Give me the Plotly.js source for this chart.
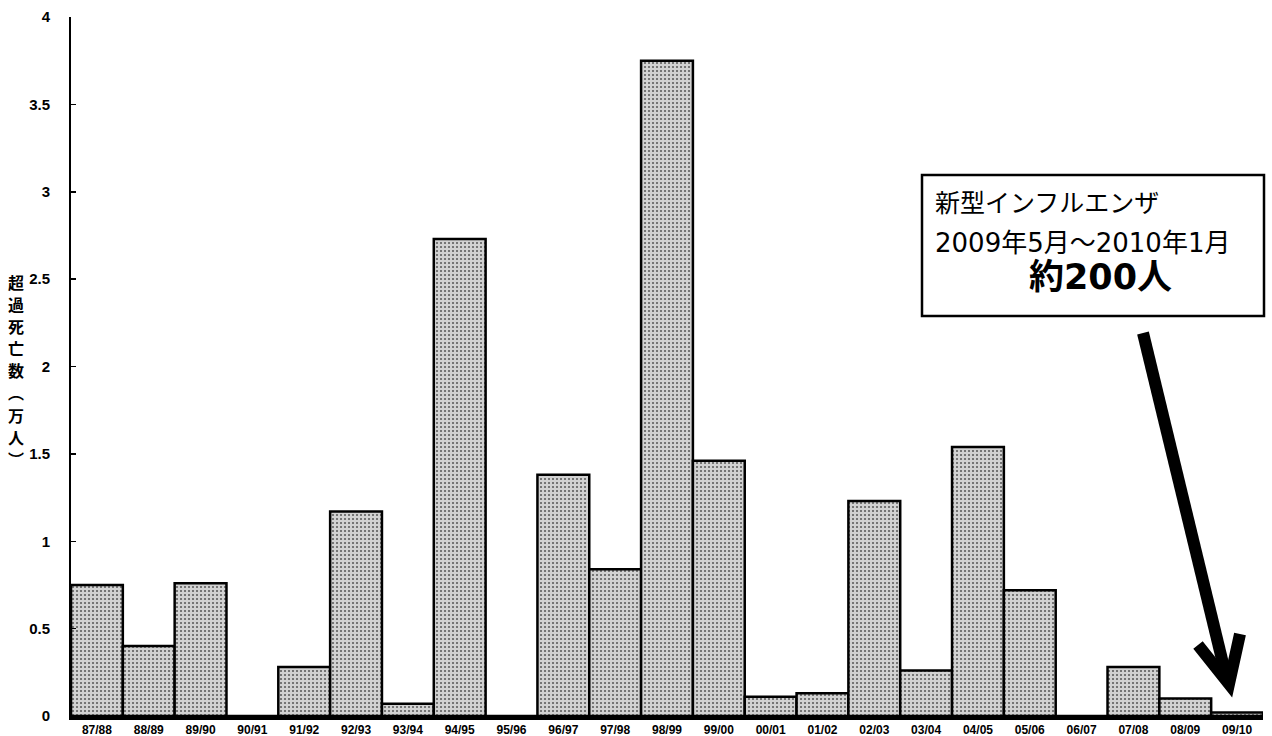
<!DOCTYPE html>
<html>
<head>
<meta charset="utf-8">
<script src="https://cdn.plot.ly/plotly-3.0.1.min.js"></script>
<style>html,body{margin:0;padding:0;background:#fff;}#chart{width:1272px;height:736px;}</style>
</head>
<body>
<div id="chart"></div>
<script>
// ---- data ----
const seasons = ["87/88","88/89","89/90","90/91","91/92","92/93","93/94","94/95","95/96","96/97","97/98","98/99","99/00","00/01","01/02","02/03","03/04","04/05","05/06","06/07","07/08","08/09","09/10"];
const excessDeaths = [0.75,0.40,0.76,0,0.28,1.17,0.07,2.73,0,1.38,0.84,3.75,1.46,0.11,0.13,1.23,0.26,1.54,0.72,0,0.28,0.10,0.02];
const yTickVals = [0,0.5,1,1.5,2,2.5,3,3.5,4];
const yTickText = ["0","0.5","1","1.5","2","2.5","3","3.5","4"];
const yTitleChars = ["超","過","死","亡","数","︵","万","人","︶"];
const boxLine1 = "新型インフルエンザ";
const boxLine2 = "2009年5月～2010年1月";
const boxLine3 = "約200人";

// ---- layout helpers (pixel -> paper) ----
const L = 71, R = 9, T = 17, B = 20, W = 1272, H = 736;
const pw = W - L - R, ph = H - T - B;
const fx = px => (px - L) / pw;
const fy = py => (H - B - py) / ph;

const trace = {
  type: "bar",
  x: seasons,
  y: excessDeaths,
  marker: {
    color: "#cfcfcf",
    line: {color: "#000", width: 2.5},
    pattern: {shape: ".", fgcolor: "#5e5e5e", bgcolor: "#d2d2d2", size: 4, solidity: 0.22}
  },
  hoverinfo: "x+y"
};

const yTitleAnns = yTitleChars.map((ch, i) => ({
  xref: "paper", yref: "paper", x: fx(16), y: fy(282 + i * 22.1),
  xanchor: "center", yanchor: "middle", text: ch, showarrow: false, borderpad: 0,
  font: {family: "Noto Sans CJK JP", size: 16, color: "#000", weight: "bold"}
}));

const layout = {
  width: W, height: H,
  margin: {l: L, r: R, t: T, b: B, pad: 0},
  paper_bgcolor: "#fff", plot_bgcolor: "#fff",
  bargap: 0,
  showlegend: false,
  xaxis: {
    type: "category",
    range: [-0.5, seasons.length - 0.5],
    showline: true, linecolor: "#000", linewidth: 4,
    ticks: "", showgrid: false, zeroline: false,
    tickfont: {family: "Liberation Sans, Arial, sans-serif", size: 12, color: "#000", weight: "bold"},
    ticklabelstandoff: 0,
    fixedrange: true
  },
  yaxis: {
    range: [0, 4],
    tickvals: yTickVals, ticktext: yTickText,
    showline: true, linecolor: "#000", linewidth: 2,
    ticks: "inside", ticklen: 5, tickwidth: 1.5, tickcolor: "#000",
    showgrid: false, zeroline: false,
    tickfont: {family: "Liberation Sans, Arial, sans-serif", size: 15, color: "#000", weight: "bold"},
    ticklabelstandoff: 16,
    fixedrange: true
  },
  shapes: [
    {type: "rect", xref: "paper", yref: "paper",
     x0: fx(922), x1: fx(1264), y0: fy(316), y1: fy(175),
     line: {color: "#000", width: 2.5}, fillcolor: "#fff", layer: "above"},
    {type: "line", xref: "paper", yref: "paper",
     x0: fx(1143), y0: fy(333), x1: fx(1226), y1: fy(676),
     line: {color: "#000", width: 12}},
    {type: "path", xref: "paper", yref: "paper",
     path: "M " + fx(1198) + " " + fy(645) + " L " + fx(1229) + " " + fy(684) + " L " + fx(1240) + " " + fy(634),
     line: {color: "#000", width: 12}}
  ],
  annotations: yTitleAnns.concat([
    {xref: "paper", yref: "paper", x: fx(933), y: fy(203), xanchor: "left", yanchor: "middle",
     text: boxLine1, showarrow: false,
     font: {family: "DejaVu Sans, Noto Sans CJK JP", size: 25, color: "#000"}},
    {xref: "paper", yref: "paper", x: fx(933), y: fy(243), xanchor: "left", yanchor: "middle",
     text: boxLine2, showarrow: false,
     font: {family: "DejaVu Sans, Noto Sans CJK JP", size: 26, color: "#000"}},
    {xref: "paper", yref: "paper", x: fx(1100), y: fy(277), xanchor: "center", yanchor: "middle",
     text: boxLine3, showarrow: false,
     font: {family: "DejaVu Sans, Noto Sans CJK JP", size: 35, color: "#000", weight: "bold"}}
  ])
};

Plotly.newPlot("chart", [trace], layout, {displayModeBar: false, staticPlot: true});
</script>
</body>
</html>
